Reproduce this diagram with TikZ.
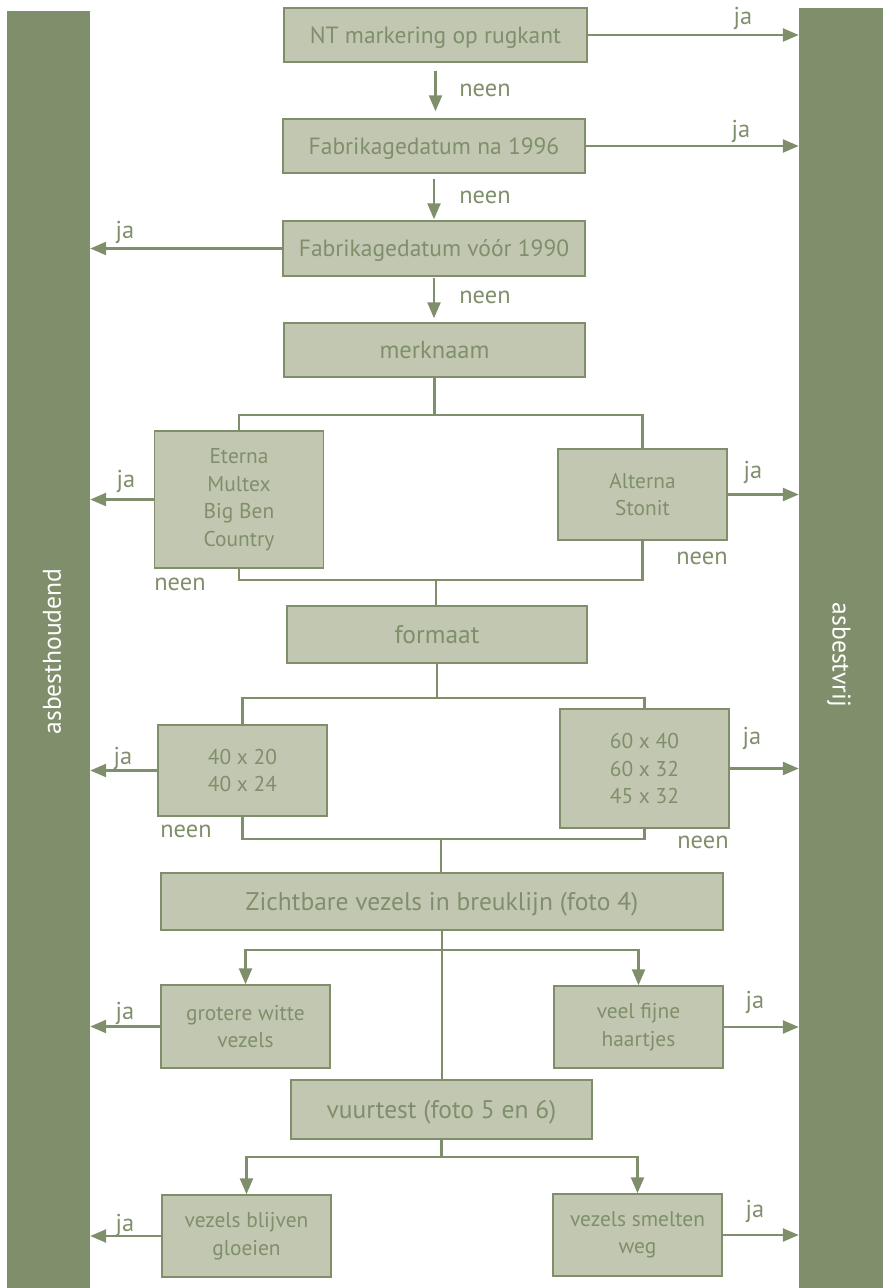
\documentclass[tikz,border=0pt]{standalone}
\usepackage{fontspec}
\setmainfont{PT Sans}
\usetikzlibrary{arrows.meta}
\definecolor{bargreen}{HTML}{808F6B}
\definecolor{boxgreen}{HTML}{C2C7B1}
\tikzset{>={Triangle[length=16pt,width=13pt]}}
\tikzset{
  box/.style={draw=bargreen, line width=1.5pt, fill=boxgreen, text=bargreen,
    align=center, inner sep=0pt},
  bigbox/.style={box, text depth=0pt, font=\fontsize{23.5}{27}\selectfont},
  widebox/.style={box, text depth=0pt, font=\fontsize{25.5}{28}\selectfont},
  smallbox/.style={box, font=\fontsize{21.4}{27.5}\selectfont, minimum width=169pt},
  bar/.style={fill=bargreen, inner sep=0pt},
  bartext/.style={text=white, font=\fontsize{25.6}{28}\selectfont},
  lbl/.style={text=bargreen, font=\fontsize{24.4}{27}\selectfont, anchor=base},
  line/.style={draw=bargreen, line width=2.5pt},
}

\begin{document}
\begin{tikzpicture}[x=1pt,y=-1pt]
\useasboundingbox (0,0) rectangle (883,1288);
% side bars
\node[bar, minimum width=83pt, minimum height=1277pt] (lbar) at (48.5,649.5) {};
\node[bar, minimum width=84pt, minimum height=1280pt] (rbar) at (841,648) {};
\node[bartext, rotate=90] (ltext) at (52,651.5) {asbesthoudend};
\node[bartext, rotate=-90] (rtext) at (839,655) {asbestvrij};
% main column
\node[bigbox, minimum width=303pt, minimum height=54pt] (nt) at (435.5,35) {NT markering op rugkant};
\node[bigbox, minimum width=302pt, minimum height=54pt] (na96) at (434,146) {Fabrikagedatum na 1996};
\node[bigbox, minimum width=302pt, minimum height=55pt] (voor90) at (434,248.5) {Fabrikagedatum vóór 1990};
\node[bigbox, font=\fontsize{24.5}{28}\selectfont, minimum width=301pt, minimum height=54pt] (merk) at (434.5,350) {merknaam};
\node[smallbox, minimum height=137pt] (eterna) at (239,499.5) {Eterna\\Multex\\Big Ben\\Country};
\node[smallbox, minimum height=91pt] (alterna) at (642.5,494.5) {Alterna\\Stonit};
\node[widebox, minimum width=300pt, minimum height=57pt] (formaat) at (437,634.5) {formaat};
\node[smallbox, minimum height=91pt] (klein) at (242.5,770.5) {40 x 20\\40 x 24};
\node[smallbox, minimum height=119pt] (groot) at (644.5,768.5) {60 x 40\\60 x 32\\45 x 32};
\node[widebox, minimum width=562pt, minimum height=57pt] (zicht) at (442,901.5) {Zichtbare vezels in breuklijn (foto 4)};
\node[smallbox, minimum height=83pt] (witte) at (245.5,1026.5) {grotere witte\\vezels};
\node[smallbox, minimum height=82pt] (fijne) at (638.5,1027) {veel fijne\\haartjes};
\node[widebox, minimum width=301pt, minimum height=59pt] (vuur) at (441.5,1109.5) {vuurtest (foto 5 en 6)};
\node[smallbox, minimum height=82pt] (gloei) at (246.5,1236) {vezels blijven\\gloeien};
\node[smallbox, minimum height=82pt] (smelt) at (637.5,1235) {vezels smelten\\weg};
% neen arrows
\draw[line,->,shorten <=8pt,shorten >=7pt] (nt.south) -- (nt.south |- na96.north);
\draw[line,->,shorten <=5pt,shorten >=1pt] (na96.south) -- (na96.south |- voor90.north);
\draw[line,->,shorten <=1pt,shorten >=4pt] (voor90.south) -- (voor90.south |- merk.north);
\node[lbl] (neen1) at (485,96) {neen};
\node[lbl] (neen2) at (485,203) {neen};
\node[lbl] (neen3) at (485,303) {neen};
% ja arrows
\draw[line,->] (nt.east) -- (nt.east -| rbar.west);
\draw[line,->] (na96.east) -- (na96.east -| rbar.west);
\draw[line,->] (voor90.west) -- (voor90.west -| lbar.east);
\draw[line,->] (eterna.west) -- (eterna.west -| lbar.east);
\draw[line,->] (alterna.east) -- (alterna.east -| rbar.west);
\draw[line,->] (klein.west) -- (klein.west -| lbar.east);
\draw[line,->] (groot.east) -- (groot.east -| rbar.west);
\draw[line,->] (witte.west) -- (witte.west -| lbar.east);
\draw[line,->] (fijne.east) -- (fijne.east -| rbar.west);
\draw[line,->] (gloei.west) -- (gloei.west -| lbar.east);
\draw[line,->] (smelt.east) -- (smelt.east -| rbar.west);
\node[lbl] (ja1) at (743,24) {ja};
\node[lbl] (ja2) at (741,137) {ja};
\node[lbl] (ja3) at (125,238) {ja};
\node[lbl] (ja4) at (126,487) {ja};
\node[lbl] (ja5) at (753,478) {ja};
\node[lbl] (ja6) at (123,764) {ja};
\node[lbl] (ja7) at (752,744) {ja};
\node[lbl] (ja8) at (125,1019) {ja};
\node[lbl] (ja9) at (755,1008) {ja};
\node[lbl] (ja10) at (125,1231) {ja};
\node[lbl] (ja11) at (755,1217) {ja};
% brand fork
\coordinate (mfork) at (434.5,415);
\coordinate (mjoin) at (436,580);
\draw[line] (merk.south) -- (mfork);
\draw[line] (eterna.north) |- (mfork) -| (alterna.north);
\draw[line] (eterna.south) |- (mjoin) -| (alterna.south);
\draw[line] (mjoin) -- (mjoin |- formaat.north);
\node[lbl] (neen4) at (180,590) {neen};
\node[lbl] (neen5) at (702,564) {neen};
% size fork
\coordinate (ffork) at (437,698);
\coordinate (fjoin) at (441,839);
\draw[line] (formaat.south) -- (ffork);
\draw[line] (klein.north) |- (ffork) -| (groot.north);
\draw[line] (klein.south) |- (fjoin) -| (groot.south);
\draw[line] (fjoin) -- (fjoin |- zicht.north);
\node[lbl] (neen6) at (186,837) {neen};
\node[lbl] (neen7) at (703,848) {neen};
% fibres
\coordinate (zfork) at (442,950);
\draw[line] (zicht.south) -- (zicht.south |- vuur.north);
\draw[line,->] (zfork) -| (witte.north);
\draw[line,->] (zfork) -| (fijne.north);
% fire test
\coordinate (vfork) at (441.5,1157);
\draw[line] (vuur.south) -- (vfork);
\draw[line,->] (vfork) -| (gloei.north);
\draw[line,->] (vfork) -| (smelt.north);
\end{tikzpicture}
\end{document}
